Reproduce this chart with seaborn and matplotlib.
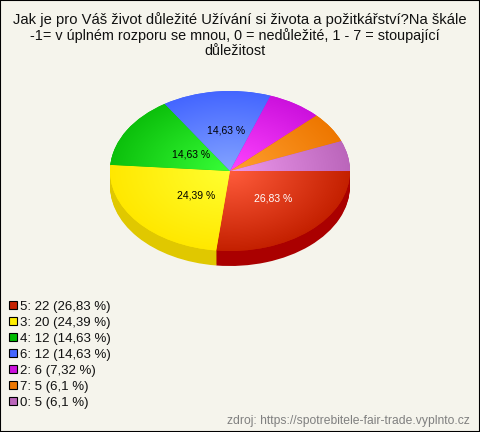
import numpy as np
import matplotlib
matplotlib.use('Agg')
import matplotlib.pyplot as plt
from matplotlib.colors import to_rgb
from matplotlib.patches import Patch, Rectangle
import seaborn as sns

# survey answers, biggest first
answers = ['5', '3', '4', '6', '2', '7', '0']
counts = [22, 20, 12, 12, 6, 5, 5]
percents = ['26,83', '24,39', '14,63', '14,63', '7,32', '6,1', '6,1']

title_lines = ['Jak je pro Váš život důležité Užívání si života a požitkářství?Na škále',
               '-1= v úplném rozporu se mnou, 0 = nedůležité, 1 - 7 = stoupající',
               'důležitost']
source = 'zdroj: https://spotrebitele-fair-trade.vyplnto.cz'

# colours: rim of the slice, middle of the pie, side wall
outer = ['#C42000', '#FFE800', '#0CC00C', '#4466FF', '#CC11DD', '#EE7700', '#BB66BB']
inner = ['#FF5C3C', '#FFFF30', '#38FF38', '#84A4FF', '#FF44FF', '#FFA030', '#EE99EE']
side = ['#AA0000', '#E0C800', '#00A000', '#3050D0', '#A000B0', '#C06000', '#905090']
legend_colors = ['#C42000', '#FFEE00', '#00BB00', '#4466FF', '#CC11DD', '#EE7700', '#BB66BB']

bg = '#F5F4EC'
W, H = 480, 432

sns.set_style('white')
plt.rcParams['font.family'] = ['Liberation Sans', 'DejaVu Sans']

fig = plt.figure(figsize=(W / 100, H / 100), dpi=100, facecolor=bg)

# pie is 240x160 px around (230, 171), data units are the radius
rx, ry = 120, 80
cx, cy = 230, 171
x0, x1, y0, y1 = -1.1, 1.1, -1.3, 1.1
ax = fig.add_axes([(cx + x0 * rx) / W, 1 - (cy - y0 * ry) / H,
                   (x1 - x0) * rx / W, (y1 - y0) * ry / H])

flat = {'linewidth': 0}

# side wall, stacked copies going down
for d in np.linspace(15 / ry, 0.01, 16):
    ax.pie(counts, colors=side, startangle=0, counterclock=False,
           center=(0, -d), radius=1, wedgeprops=flat)

wedges, _ = ax.pie(counts, colors=outer, startangle=0, counterclock=False, radius=1,
                   wedgeprops=flat)

# radial shading inside every slice
xx, yy = np.meshgrid(np.linspace(-1, 1, 400), np.linspace(-1, 1, 400))
dist = np.clip(np.hypot(xx, yy), 0, 1)[..., None]
for w, a, b in zip(wedges, inner, outer):
    img = np.array(to_rgb(a)) * (1 - dist) + np.array(to_rgb(b)) * dist
    im = ax.imshow(img, extent=(-1, 1, -1, 1), origin='lower', aspect='auto', zorder=2)
    im.set_clip_path(w)

# percent labels only on the four big slices, nudged in pixels
label_r = [0.50, 0.44, 0.38, 0.51]
label_c = ['white', 'black', 'black', 'black']
nudge = [(3, 2), (7, -2), (0, 1), (3, 0)]
for w, p, r, c, n in zip(wedges, percents, label_r, label_c, nudge):
    t = np.deg2rad((w.theta1 + w.theta2) / 2)
    ax.annotate(p + ' %', (r * np.cos(t), r * np.sin(t)),
                xytext=(n[0] * 0.72, n[1] * 0.72), textcoords='offset points',
                color=c, fontsize=7.5, ha='center', va='center', zorder=3)

ax.set_aspect('auto')
ax.set_xlim(x0, x1)
ax.set_ylim(y0, y1)
ax.axis('off')

# second and third title line sit a bit left of the first one
for line, x, y, fs in zip(title_lines, [240, 235, 235], [20, 36, 51], [10.6, 10.4, 10.4]):
    fig.text(x / W, 1 - y / H, line, ha='center', va='center', fontsize=fs, color='#111111')

handles = [Patch(facecolor=c, edgecolor='black', linewidth=0.8) for c in legend_colors]
labels = [f'{a}: {n} ({p} %)' for a, n, p in zip(answers, counts, percents)]
fig.legend(handles, labels, loc='upper left', bbox_to_anchor=(6.5 / W, 1 - 298 / H),
           frameon=False, fontsize=9.55, labelspacing=0.3, handlelength=0.6,
           handleheight=0.6, handletextpad=0.25, borderpad=0.2, borderaxespad=0,
           labelcolor='#111111')

fig.text(470 / W, 1 - 421 / H, source, ha='right', va='center', fontsize=8.75, color='#808080')

# black frame round the picture
fig.add_artist(Rectangle((0, 0), 1, 1, transform=fig.transFigure, fill=False,
                         edgecolor='black', linewidth=1.5))

fig.savefig('out.png', dpi=100, facecolor=bg)
